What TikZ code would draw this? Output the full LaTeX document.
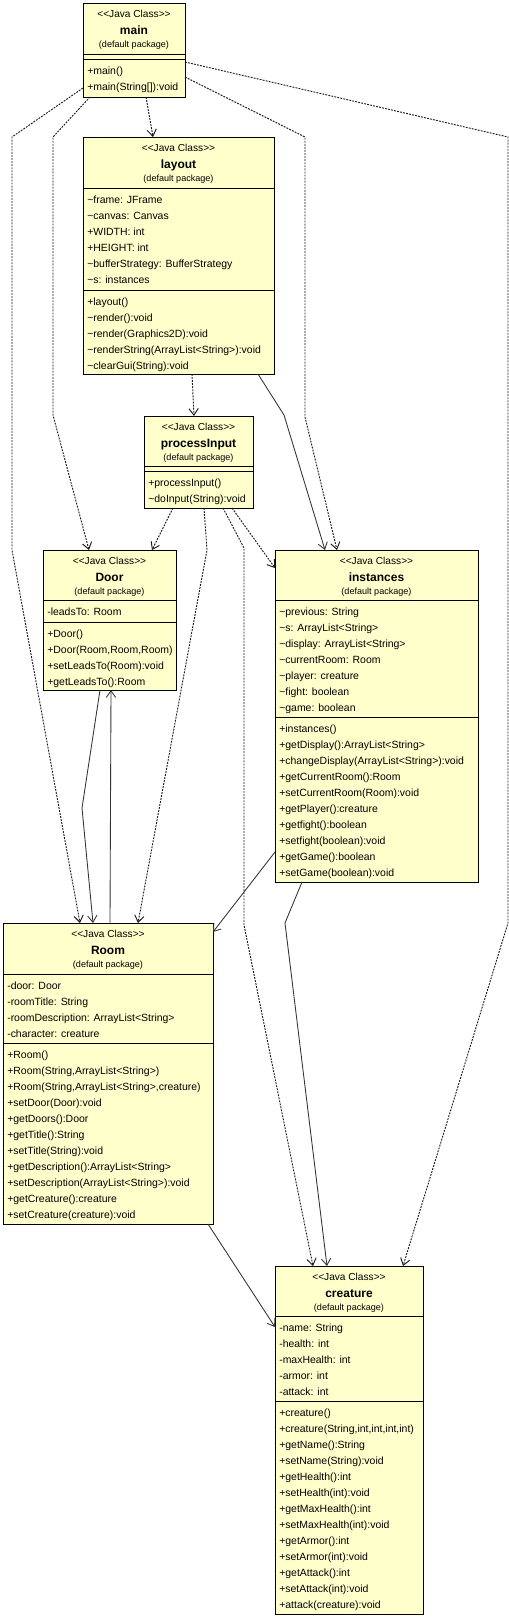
\documentclass[tikz,border=0pt]{standalone}
\usepackage{fontspec}
\setmainfont{Liberation Sans}
\usetikzlibrary{fit, calc, arrows.meta}
\definecolor{classfill}{RGB}{255,255,204}

\begin{document}
\begin{tikzpicture}[x=0.75pt, y=-0.75pt,
    classbox/.style={draw, fill=classfill, line width=0.75pt, inner sep=0pt, outer sep=0pt},
    stereo/.style={anchor=base, inner sep=0pt, font=\fontsize{7.6}{9}\selectfont},
    classname/.style={anchor=base, inner sep=0pt, font=\fontsize{9}{11}\selectfont\bfseries},
    pkg/.style={anchor=base, inner sep=0pt, font=\fontsize{6.8}{8}\selectfont},
    member/.style={anchor=base west, inner sep=0pt, font=\fontsize{7.85}{10}\selectfont},
    rule/.style={line width=0.75pt},
    dep/.style={draw=black!90, line width=0.7pt, dash pattern=on 1.4pt off 0.9pt, -{Straight Barb[length=5pt,width=7pt]}},
    assoc/.style={draw=black!80, line width=0.65pt, -{Straight Barb[length=5pt,width=7pt]}}]
      \useasboundingbox (0,0) rectangle (509,1618);

      % main
      \node[classbox, fit={(83,3) (185,97)}] (main) {};
      \node[stereo] (main-st) at (134,17) {<{}<Java Class>{}>};
      \node[classname] (main-nm) at (134,34) {main};
      \node[pkg] (main-pk) at (134,47) {(default package)};
      \draw[rule] (83,54) -- (185,54) (83,59) -- (185,59);
      \foreach \t [count=\i] in {+main(), +main(String[]):void}
        \node[member] (main-m\i) at (87,59+16*\i-1) {\t};

      % layout
      \node[classbox, fit={(83,137) (274,374)}] (layout) {};
      \node[stereo] (layout-st) at (178.5,151) {<{}<Java Class>{}>};
      \node[classname] (layout-nm) at (178.5,168) {layout};
      \node[pkg] (layout-pk) at (178.5,181) {(default package)};
      \draw[rule] (83,188) -- (274,188) (83,290) -- (274,290);
      \foreach \t [count=\i] in {\textasciitilde frame: JFrame, \textasciitilde canvas: Canvas, +WIDTH: int, +HEIGHT: int,
          \textasciitilde bufferStrategy: BufferStrategy, \textasciitilde s: instances}
        \node[member] (layout-a\i) at (87,188+16*\i-1) {\t};
      \foreach \t [count=\i] in {+layout(), \textasciitilde render():void, \textasciitilde render(Graphics2D):void,
          \textasciitilde renderString(ArrayList<String>):void, \textasciitilde clearGui(String):void}
        \node[member] (layout-m\i) at (87,290+16*\i-1) {\t};

      % processInput
      \node[classbox, fit={(144,416) (253,508)}] (processInput) {};
      \node[stereo] (processInput-st) at (198.5,430) {<{}<Java Class>{}>};
      \node[classname] (processInput-nm) at (198.5,447) {processInput};
      \node[pkg] (processInput-pk) at (198.5,460) {(default package)};
      \draw[rule] (144,466) -- (253,466) (144,471) -- (253,471);
      \foreach \t [count=\i] in {+processInput(), \textasciitilde doInput(String):void}
        \node[member] (processInput-m\i) at (148,471+16*\i-1) {\t};

      % Door
      \node[classbox, fit={(43,550) (176,690)}] (Door) {};
      \node[stereo] (Door-st) at (109.5,564) {<{}<Java Class>{}>};
      \node[classname] (Door-nm) at (109.5,581) {Door};
      \node[pkg] (Door-pk) at (109.5,594) {(default package)};
      \draw[rule] (43,600) -- (176,600) (43,622) -- (176,622);
      \node[member] (Door-a1) at (47,615) {-leadsTo: Room};
      \foreach \t [count=\i] in {+Door(), {+Door(Room,Room,Room)}, +setLeadsTo(Room):void, +getLeadsTo():Room}
        \node[member] (Door-m\i) at (47,622+16*\i-1) {\t};

      % instances
      \node[classbox, fit={(275,550) (478,882)}] (instances) {};
      \node[stereo] (instances-st) at (376.5,564) {<{}<Java Class>{}>};
      \node[classname] (instances-nm) at (376.5,581) {instances};
      \node[pkg] (instances-pk) at (376.5,594) {(default package)};
      \draw[rule] (275,600) -- (478,600) (275,717) -- (478,717);
      \foreach \t [count=\i] in {\textasciitilde previous: String, \textasciitilde s: ArrayList<String>,
          \textasciitilde display: ArrayList<String>, \textasciitilde currentRoom: Room, \textasciitilde player: creature,
          \textasciitilde fight: boolean, \textasciitilde game: boolean}
        \node[member] (instances-a\i) at (279,600+16*\i-1) {\t};
      \foreach \t [count=\i] in {+instances(), +getDisplay():ArrayList<String>, +changeDisplay(ArrayList<String>):void,
          +getCurrentRoom():Room, +setCurrentRoom(Room):void, +getPlayer():creature, +getfight():boolean,
          +setfight(boolean):void, +getGame():boolean, +setGame(boolean):void}
        \node[member] (instances-m\i) at (279,717+16*\i-1) {\t};

      % Room
      \node[classbox, fit={(3,923) (213,1224)}] (Room) {};
      \node[stereo] (Room-st) at (108,937) {<{}<Java Class>{}>};
      \node[classname] (Room-nm) at (108,954) {Room};
      \node[pkg] (Room-pk) at (108,967) {(default package)};
      \draw[rule] (3,974) -- (213,974) (3,1043) -- (213,1043);
      \foreach \t [count=\i] in {-door: Door, -roomTitle: String, -roomDescription: ArrayList<String>, -character: creature}
        \node[member] (Room-a\i) at (7,974+16*\i-1) {\t};
      \foreach \t [count=\i] in {+Room(), {+Room(String,ArrayList<String>)}, {+Room(String,ArrayList<String>,creature)},
          +setDoor(Door):void, +getDoors():Door, +getTitle():String, +setTitle(String):void,
          +getDescription():ArrayList<String>, +setDescription(ArrayList<String>):void,
          +getCreature():creature, +setCreature(creature):void}
        \node[member] (Room-m\i) at (7,1043+16*\i-1) {\t};

      % creature
      \node[classbox, fit={(275,1266) (423,1614)}] (creature) {};
      \node[stereo] (creature-st) at (349,1280) {<{}<Java Class>{}>};
      \node[classname] (creature-nm) at (349,1297) {creature};
      \node[pkg] (creature-pk) at (349,1310) {(default package)};
      \draw[rule] (275,1316) -- (423,1316) (275,1401) -- (423,1401);
      \foreach \t [count=\i] in {-name: String, -health: int, -maxHealth: int, -armor: int, -attack: int}
        \node[member] (creature-a\i) at (279,1316+16*\i-1) {\t};
      \foreach \t [count=\i] in {+creature(), {+creature(String,int,int,int,int)}, +getName():String,
          +setName(String):void, +getHealth():int, +setHealth(int):void, +getMaxHealth():int,
          +setMaxHealth(int):void, +getArmor():int, +setArmor(int):void, +getAttack():int,
          +setAttack(int):void, +attack(creature):void}
        \node[member] (creature-m\i) at (279,1401+16*\i-1) {\t};

      % dependencies
      \draw[dep] ($(main.south west)+(63,0)$) -- ($(layout.north west)+(70,0)$);
      \draw[dep] ($(main.south west)+(0,-9)$) -- (12,137) -- (12,550) -- ($(Room.north west)+(77,0)$);
      \draw[dep] ($(main.south west)+(7,0)$) -- (53,137) -- (53,415) -- ($(Door.north west)+(46,0)$);
      \draw[dep] ($(main.north east)+(0,74)$) -- (305,137) -- (305,417) -- ($(instances.north west)+(62,0)$);
      \draw[dep] ($(main.north east)+(0,59)$) -- (508,137) -- (508,923) -- ($(creature.north west)+(128,0)$);
      \draw[dep] ($(layout.south west)+(109,0)$) -- ($(processInput.north west)+(50,0)$);
      \draw[dep] ($(processInput.south west)+(29,0)$) -- ($(Door.north east)+(-24,0)$);
      \draw[dep] ($(processInput.south west)+(60,0)$) -- (207,550) -- ($(Room.north west)+(135,0)$);
      \draw[dep] ($(processInput.south west)+(79,0)$) -- (244,548) -- (244,925) -- ($(creature.north west)+(38,0)$);
      \draw[dep] ($(processInput.south west)+(88,0)$) -- ($(instances.north west)+(0,18)$);

      % associations
      \draw[assoc] ($(layout.south east)+(-16,0)$) -- (284,415) -- ($(instances.north west)+(50,0)$);
      \draw[assoc] ($(Door.south west)+(57,0)$) -- (82,808) -- ($(Room.north west)+(90,0)$);
      \draw[assoc] ($(Room.north west)+(107,0)$) -- ($(Door.south west)+(68,0)$);
      \draw[assoc] ($(instances.south west)+(0,-30)$) -- ($(Room.north east)+(0,9)$);
      \draw[assoc] ($(instances.south west)+(27,0)$) -- (285,923) -- ($(creature.north west)+(52,0)$);
      \draw[assoc] ($(Room.south east)+(-5,0)$) -- ($(creature.north west)+(0,61)$);
    \end{tikzpicture}
\end{document}
